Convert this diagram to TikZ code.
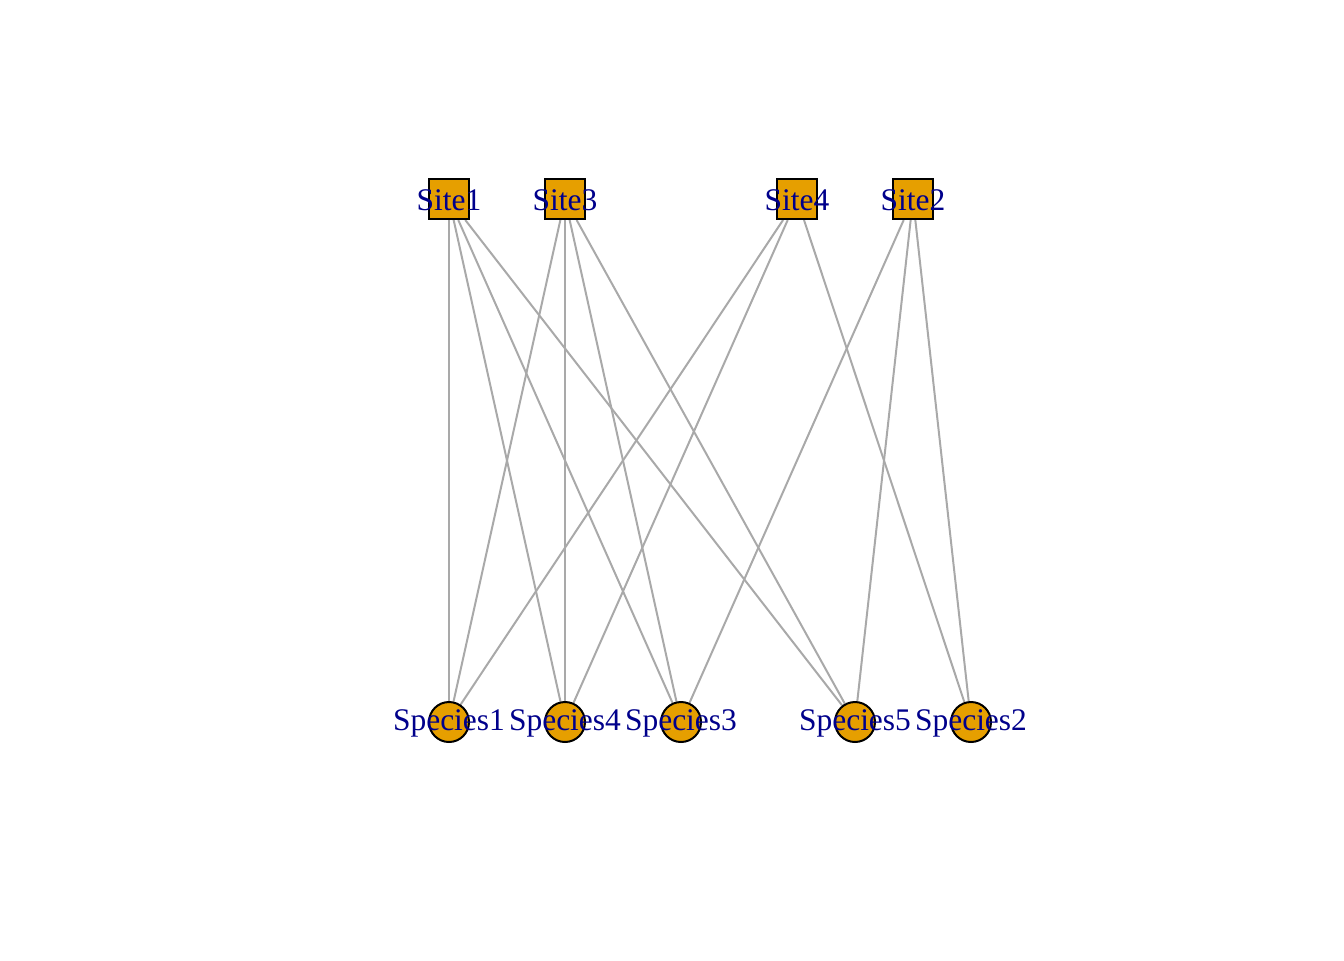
\documentclass[tikz,border=0pt]{standalone}
\usepackage{fontspec}
\setmainfont{Liberation Serif}
\usetikzlibrary{backgrounds}
\definecolor{vfill}{HTML}{E69F00}
\definecolor{edgecol}{HTML}{A9A9A9}
\definecolor{labcol}{HTML}{00008B}
\tikzset{
  site/.style={draw=black, fill=vfill, line width=0.75pt, rectangle, minimum size=15pt, inner sep=0pt},
  species/.style={draw=black, fill=vfill, line width=0.75pt, circle, minimum size=15pt, inner sep=0pt},
  lab/.style={text=labcol, font=\fontsize{11.8pt}{13pt}\selectfont, inner sep=0pt, anchor=center},
  edge/.style={draw=edgecol, line width=0.75pt}
}
\begin{document}
\begin{tikzpicture}[x=0.375pt, y=-0.375pt]
\useasboundingbox (0,0) rectangle (1344,960);
% vertices
\node[site] (s1) at (449,199) {};
\node[site] (s3) at (565,199) {};
\node[site] (s4) at (797,199) {};
\node[site] (s2) at (913,199) {};
\node[species] (p1) at (449,722) {};
\node[species] (p4) at (565,722) {};
\node[species] (p3) at (681,722) {};
\node[species] (p5) at (855,722) {};
\node[species] (p2) at (971,722) {};
% edges
\begin{scope}[on background layer]
\draw[edge] (s1) -- (p1);
\draw[edge] (s1) -- (p4);
\draw[edge] (s1) -- (p3);
\draw[edge] (s1) -- (p5);
\draw[edge] (s3) -- (p1);
\draw[edge] (s3) -- (p4);
\draw[edge] (s3) -- (p3);
\draw[edge] (s3) -- (p5);
\draw[edge] (s4) -- (p1);
\draw[edge] (s4) -- (p4);
\draw[edge] (s4) -- (p2);
\draw[edge] (s2) -- (p3);
\draw[edge] (s2) -- (p5);
\draw[edge] (s2) -- (p2);
\end{scope}
% labels
\node[lab] (ls1) at ([yshift=-0.5pt]s1.center) {Site1};
\node[lab] (ls3) at ([yshift=-0.5pt]s3.center) {Site3};
\node[lab] (ls4) at ([yshift=-0.5pt]s4.center) {Site4};
\node[lab] (ls2) at ([yshift=-0.5pt]s2.center) {Site2};
\node[lab] (lp1) at ([yshift=-0.5pt]p1.center) {Species1};
\node[lab] (lp4) at ([yshift=-0.5pt]p4.center) {Species4};
\node[lab] (lp3) at ([yshift=-0.5pt]p3.center) {Species3};
\node[lab] (lp5) at ([yshift=-0.5pt]p5.center) {Species5};
\node[lab] (lp2) at ([yshift=-0.5pt]p2.center) {Species2};
\end{tikzpicture}
\end{document}
